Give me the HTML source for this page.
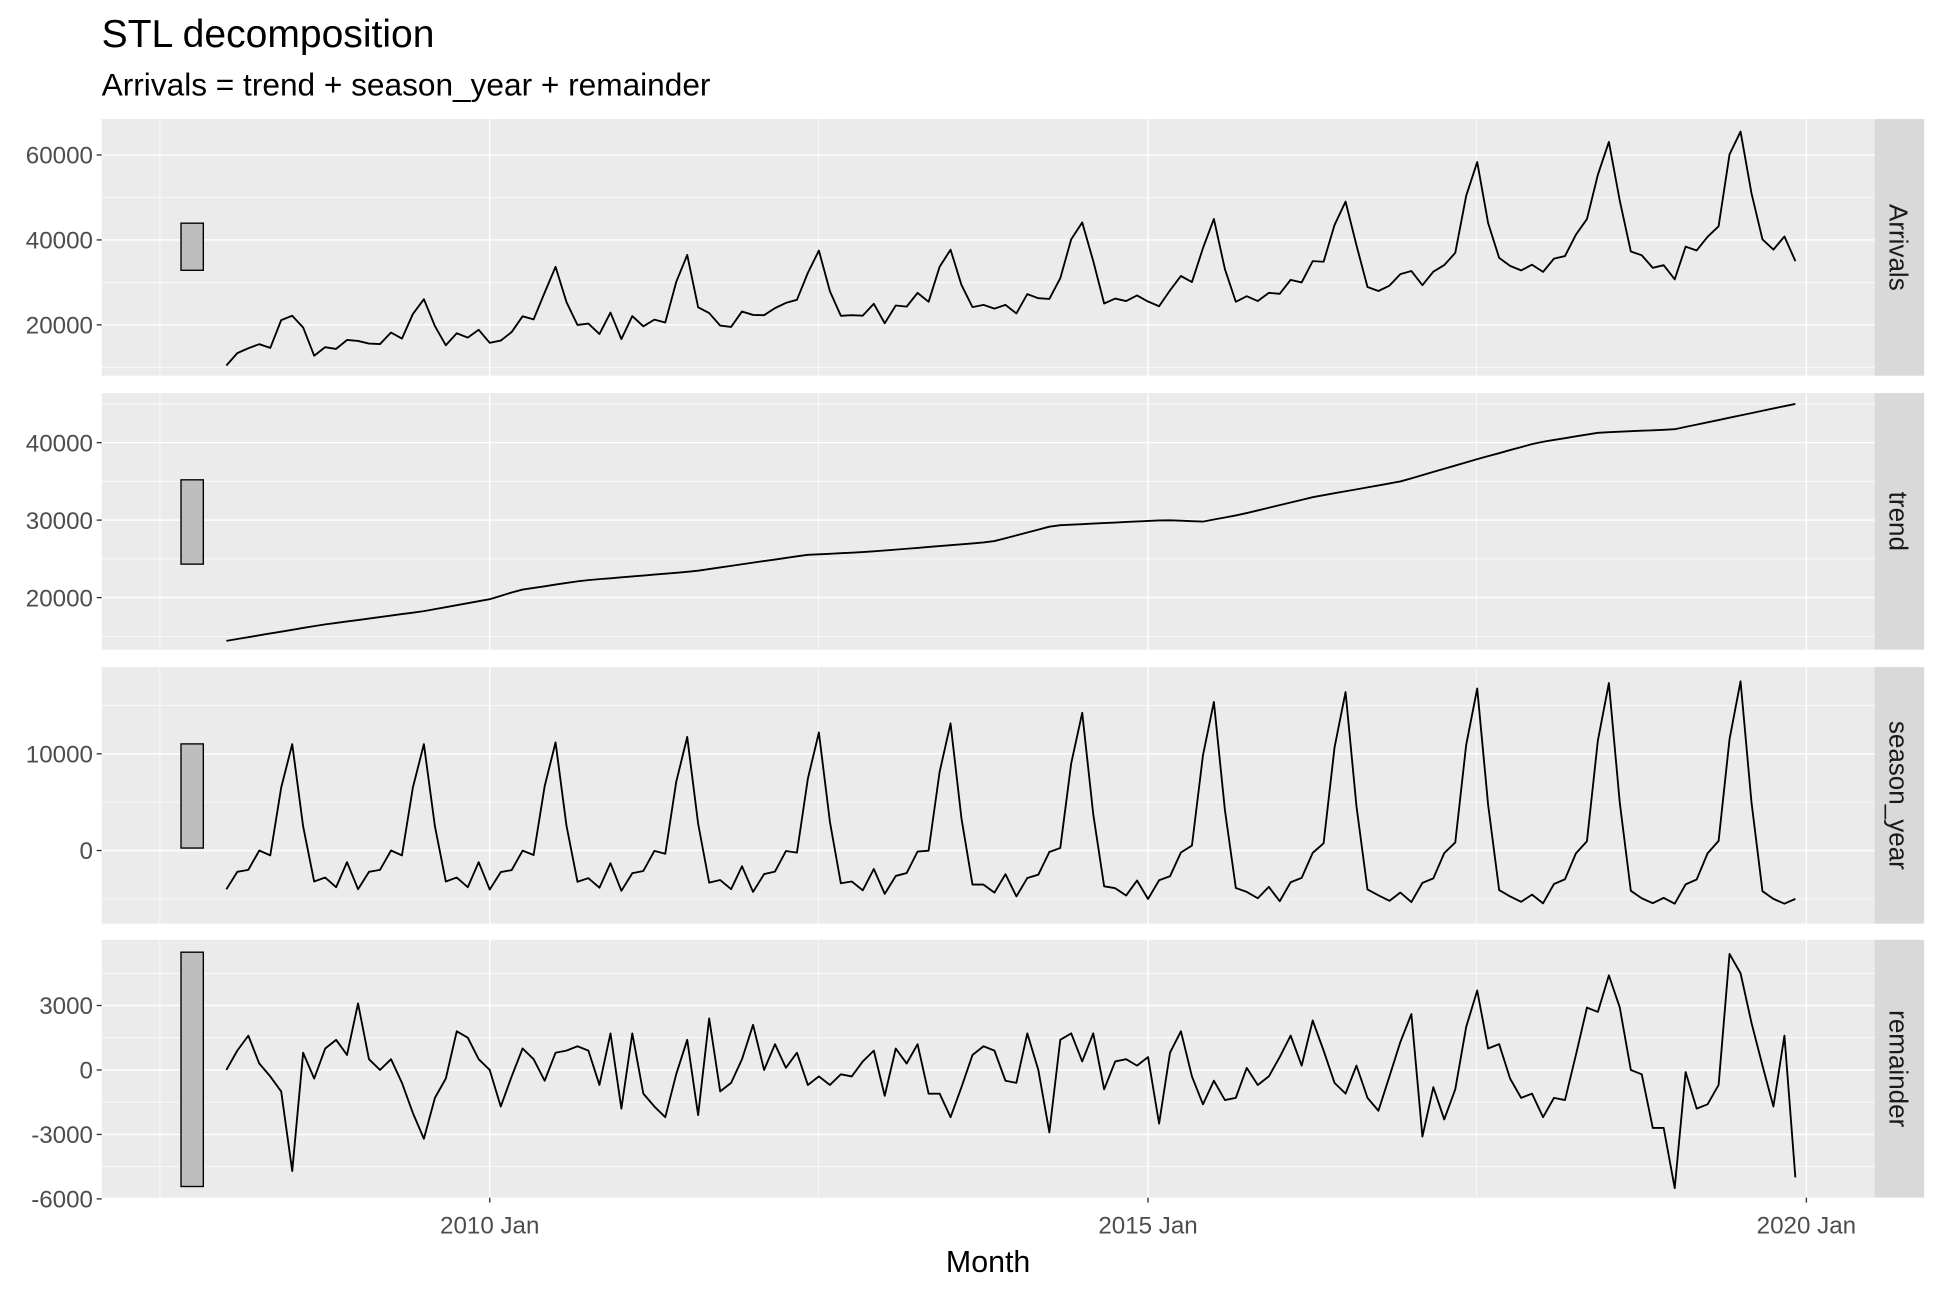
<!DOCTYPE html>
<html><head><meta charset="utf-8">
<style>
html,body{margin:0;padding:0;background:#fff;}
svg{display:block;font-family:"Liberation Sans",Arial,sans-serif;}
</style></head>
<body>
<svg id="s" width="1944" height="1296" viewBox="0 0 1568 1045.3" xmlns="http://www.w3.org/2000/svg">
<rect x="0" y="0" width="1568" height="1046" fill="#fff"/>
<text x="82" y="38" font-size="31.5" fill="#000">STL decomposition</text>
<text x="82" y="77" font-size="25.5" fill="#000">Arrivals = trend + season_year + remainder</text>
<g id="g"></g>
<text x="797" y="1026" font-size="24.5" text-anchor="middle" fill="#000">Month</text>
</svg>
<script>
const NS="http://www.w3.org/2000/svg";
const g=document.getElementById('g');
function el(t,a,txt){const e=document.createElementNS(NS,t);for(const k in a)e.setAttribute(k,a[k]);if(txt!==undefined)e.textContent=txt;g.appendChild(e);return e;}
const X0=82,X1=1512;
function xm(i){return 182.6+8.85*i;}
const rem=[0,900,1600,300,-300,-1000,-4700,800,-400,1000,1400,700,
3100,500,0,500,-600,-2000,-3200,-1300,-400,1800,1500,500,
0,-1700,-300,1000,500,-500,800,900,1100,900,-700,1700,
-1800,1700,-1100,-1700,-2200,-200,1400,-2100,2400,-1000,-600,500,
2100,0,1200,100,800,-700,-300,-700,-200,-300,400,900,
-1200,1000,300,1200,-1100,-1100,-2200,-800,700,1100,900,-500,
-600,1700,0,-2900,1400,1700,400,1700,-900,400,500,200,
600,-2500,800,1800,-300,-1600,-500,-1400,-1300,100,-700,-300,
600,1600,200,2300,900,-600,-1100,200,-1300,-1900,-300,1300,
2600,-3100,-800,-2300,-900,2000,3700,1000,1200,-400,-1300,-1100,
-2200,-1300,-1400,700,2900,2700,4400,2900,0,-200,-2700,-2700,
-5500,-100,-1800,-1600,-700,5400,4500,2200,200,-1700,1600,-5000];
const sA=[-4000,-2200,-2000,0,-500,6500,11000,2500,-3200,-2800,-3800,-1200];
const sB=[-5500,-3500,-3000,-300,1000,11500,17500,5000,-4200,-5000,-5500,-5000];
const peaks=[11000,11000,11200,11800,12300,13300,14500,15700,16800,17200,17800,18000];
const tk=[[182,14400],[260,16500],[340,18200],[395,19800],[420,21000],[470,22200],[560,23400],[650,25500],[700,25900],[800,27200],[850,29300],[940,30000],[970,29800],[1000,30700],[1060,33000],[1130,35000],[1190,37800],[1240,40000],[1290,41300],[1350,41700],[1448,45000]];
function trendAt(x){for(let k=0;k<tk.length-1;k++){if(x<=tk[k+1][0]){const f=(x-tk[k][0])/(tk[k+1][0]-tk[k][0]);return tk[k][1]+f*(tk[k+1][1]-tk[k][1]);}}return tk[tk.length-1][1];}
const tr=[],se=[],ar=[];
for(let i=0;i<144;i++){const y=Math.floor(i/12),m=i%12,f=(peaks[y]-11000)/7000;
const s=sA[m]+f*(sB[m]-sA[m]);const t=trendAt(xm(i));
tr.push(t);se.push(s);ar.push(t+s+rem[i]);}
const panels=[
{y0:96,y1:303,v0:60000,p0:125,vpp:20000/68.5,maj:[20000,40000,60000],min:[10000,30000,50000],d:ar,lab:"Arrivals",bar:[180,218]},
{y0:317,y1:524,v0:40000,p0:357,vpp:10000/62.5,maj:[20000,30000,40000],min:[15000,25000,35000,45000],d:tr,lab:"trend",bar:[387,455]},
{y0:538,y1:745,v0:10000,p0:608,vpp:10000/78,maj:[0,10000],min:[-5000,5000,15000],d:se,lab:"season_year",bar:[600,684]},
{y0:758,y1:966,v0:3000,p0:811,vpp:3000/52,maj:[-6000,-3000,0,3000],min:[-4500,-1500,1500,4500],d:rem,lab:"remainder",bar:[768,957]}];
const xmaj=[395,926,1457],xmin=[129,660,1191];
panels.forEach(p=>{
 const Y=v=>p.p0+(p.v0-v)/p.vpp;
 el('rect',{x:X0,y:p.y0,width:X1-X0,height:p.y1-p.y0,fill:'#EBEBEB'});
 el('rect',{x:X1,y:p.y0,width:40,height:p.y1-p.y0,fill:'#D9D9D9'});
 p.min.forEach(v=>{const y=Y(v);if(y>p.y0&&y<p.y1)el('line',{x1:X0,x2:X1,y1:y,y2:y,stroke:'#fff','stroke-width':0.55});});
 xmin.forEach(x=>el('line',{x1:x,x2:x,y1:p.y0,y2:p.y1,stroke:'#fff','stroke-width':0.55}));
 p.maj.forEach(v=>{const y=Y(v);el('line',{x1:X0,x2:X1,y1:y,y2:y,stroke:'#fff','stroke-width':1.1});
  el('line',{x1:X0-4,x2:X0,y1:y,y2:y,stroke:'#333','stroke-width':1.1});
  el('text',{x:X0-7,y:y+7,'font-size':19.5,'text-anchor':'end',fill:'#4D4D4D'},String(v));});
 xmaj.forEach(x=>el('line',{x1:x,x2:x,y1:p.y0,y2:p.y1,stroke:'#fff','stroke-width':1.1}));
 el('rect',{x:146,y:p.bar[0],width:18,height:p.bar[1]-p.bar[0],fill:'#BEBEBE',stroke:'#000','stroke-width':1.1});
 el('polyline',{points:p.d.map((v,i)=>xm(i).toFixed(1)+','+Y(v).toFixed(1)).join(' '),fill:'none',stroke:'#000','stroke-width':1.5,'stroke-linejoin':'round'});
 const cy=(p.y0+p.y1)/2;
 el('text',{x:1524,y:cy,'font-size':21,'text-anchor':'middle',fill:'#1A1A1A',transform:'rotate(90 1524 '+cy+')'},p.lab);
});
[["2010 Jan",395],["2015 Jan",926],["2020 Jan",1457]].forEach(([t,x])=>{
 el('line',{x1:x,x2:x,y1:966,y2:970,stroke:'#333','stroke-width':1.1});
 el('text',{x:x,y:995,'font-size':19.5,'text-anchor':'middle',fill:'#4D4D4D'},t);});
</script>
</body></html>
